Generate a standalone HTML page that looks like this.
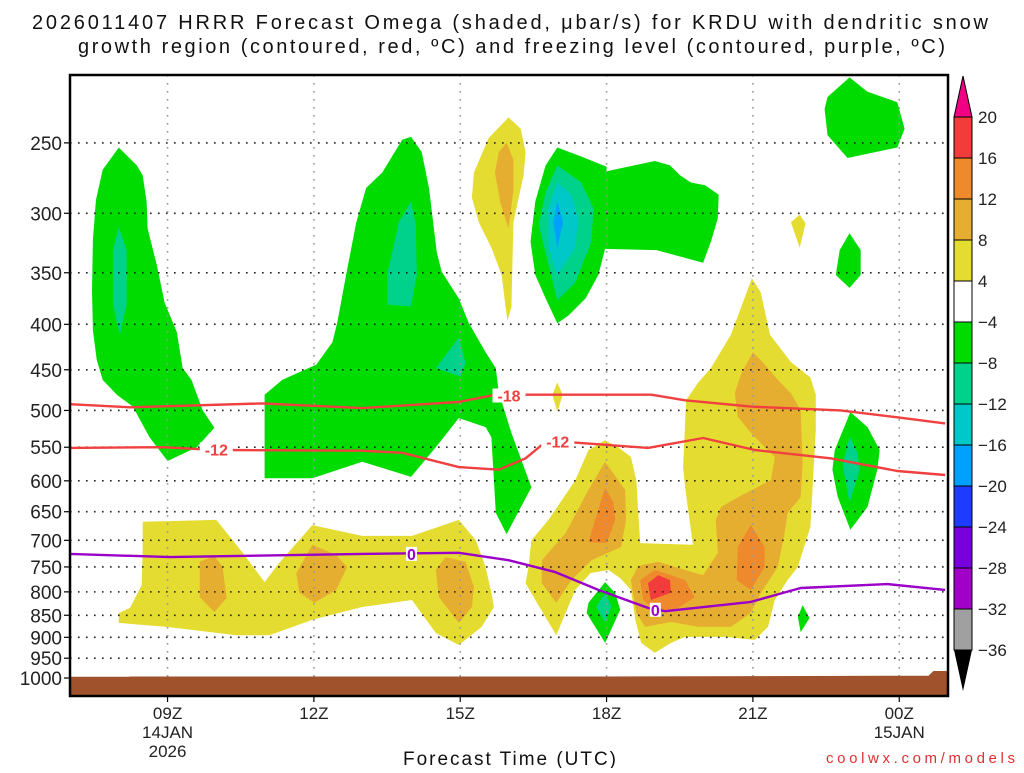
<!DOCTYPE html>
<html><head><meta charset="utf-8">
<style>
body{margin:0;background:#fff;}
svg text{font-family:"Liberation Sans",sans-serif;}
</style></head>
<body>
<svg id="chart" width="1024" height="768" viewBox="0 0 1024 768" xmlns="http://www.w3.org/2000/svg">
<g>
<text x="32" y="29" font-size="20" textLength="956" lengthAdjust="spacing" fill="#111">2026011407 HRRR Forecast Omega (shaded, μbar/s) for KRDU with dendritic snow</text>
<text x="78" y="53" font-size="20" textLength="867" lengthAdjust="spacing" fill="#111">growth region (contoured, red, ºC) and freezing level (contoured, purple, ºC)</text>
</g>
<g id="plot"></g>
<g id="axes"></g>
<g id="cbar"></g>
<text x="403" y="765" font-size="19" textLength="213" lengthAdjust="spacing" fill="#111">Forecast Time (UTC)</text>
<text x="826" y="763" font-size="15" textLength="189" lengthAdjust="spacing" fill="#e03030" font-family="Liberation Mono, monospace">coolwx.com/models</text>
</svg>
<script>
const pressureTicks=[250,300,350,400,450,500,550,600,650,700,750,800,850,900,950,1000];
const hourTicks=[9,12,15,18,21,24];
const hourTickLabels=[["09Z","14JAN","2026"],["12Z"],["15Z"],["18Z"],["21Z"],["00Z","15JAN"]];
const cbarLevels=[20,16,12,8,4,-4,-8,-12,-16,-20,-24,-28,-32,-36];
const cbarColors=["#f23c3c","#ef8a2c","#e5ae30","#e5dc32","#ffffff","#00dc00","#00d28c","#00c8c8","#00a0ff","#1e3cff","#7800dc","#a000c8","#a0a0a0"];
const surfHours=[7,8.2,8.25,10,15,18,21,24.6,24.7,25];
const surfPres=[997,997,996,996,996,996,995,994,982,982];
const isoM18Hours=[7,8.23,10.94,12.99,14.97,15.73,16.26,18.92,19.61,20.96,22.8,23.96,24.94];
const isoM18Pres=[492,496,491,497,489,480,480,480,487,495,500,509,517];
const isoM12Hours=[7,8.9,10,12.99,13.81,14.97,15.79,16.34,16.67,17.28,18.85,19.98,21.04,22.59,23.96,24.94];
const isoM12Pres=[551,550,554,555,558,579,583,566,547,543,551,537,554,566,585,591];
const iso0Hours=[7,9.04,12.99,14.97,15.99,16.95,17.83,18.85,19.2,20.96,21.98,23.76,24.94];
const iso0Pres=[725,731,725,723,737,760,796,834,841,821,792,784,796];
const yellowRegions=[
[[8.49,667],[10.0,664],[10.54,723],[10.99,780],[11.29,742],[11.97,673],[12.99,692],[14.01,692],[14.97,664],[15.32,700],[15.52,750],[15.64,802],[15.69,832],[15.44,876],[14.97,918],[14.5,890],[14.01,817],[12.99,832],[11.97,860],[11.09,895],[10.41,895],[8.98,876],[8.0,867],[8.0,845],[8.23,834],[8.47,786],[8.49,712]],
[[15.99,234],[16.24,241],[16.34,256],[16.3,272],[16.09,307],[16.05,383],[15.97,396],[15.93,383],[15.85,352],[15.64,328],[15.38,307],[15.24,288],[15.28,270],[15.58,247]],
[[20.98,355],[21.16,368],[21.35,411],[21.78,441],[22.18,459],[22.29,480],[22.29,526],[22.18,676],[21.92,750],[21.71,776],[21.45,817],[21.31,876],[21.04,906],[20.43,899],[19.61,899],[19.32,913],[18.99,937],[18.71,913],[18.59,860],[18.5,796],[18.28,772],[18.04,756],[17.67,762],[17.36,796],[17.16,845],[16.97,895],[16.54,817],[16.34,782],[16.4,750],[16.46,700],[16.81,664],[17.36,599],[17.63,554],[17.97,540],[18.24,550],[18.5,564],[18.61,599],[18.69,705],[19.77,708],[19.61,610],[19.57,579],[19.63,487],[19.88,465],[20.14,448],[20.55,411]],
[[16.99,465],[16.89,480],[16.99,502],[17.1,480]],
[[21.96,301],[21.78,307],[21.96,328],[22.08,308]]
];
const orangeRegions=[
[[9.96,729],[9.66,740],[9.66,811],[9.96,843],[10.21,813],[10.13,750]],
[[11.97,708],[11.64,762],[11.7,802],[12.01,823],[12.46,796],[12.68,750],[12.46,727]],
[[14.7,731],[14.5,756],[14.56,811],[14.97,867],[15.24,832],[15.28,790],[15.11,740]],
[[15.95,250],[16.09,261],[16.09,283],[15.99,312],[15.83,293],[15.71,270],[15.79,256]],
[[21.0,430],[21.2,441],[21.51,462],[21.78,478],[21.98,500],[22.02,573],[21.98,626],[21.71,652],[21.65,687],[21.51,750],[21.16,803],[20.96,845],[20.55,876],[19.88,876],[19.32,865],[18.79,876],[18.61,845],[18.5,776],[18.65,748],[19.06,740],[19.61,756],[19.98,766],[20.28,723],[20.24,664],[20.35,642],[20.69,626],[21.37,599],[21.45,564],[21.24,550],[20.96,530],[20.69,508],[20.63,478],[20.75,456]],
[[17.97,571],[17.63,614],[17.16,687],[16.67,737],[16.67,782],[16.97,823],[17.28,776],[17.69,737],[18.3,712],[18.4,664],[18.38,614]]
];
const darkOrangeRegions=[
[[20.96,673],[20.69,712],[20.67,776],[20.96,796],[21.24,750],[21.24,712]],
[[18.99,756],[18.69,776],[18.75,817],[18.99,838],[19.41,838],[19.81,811],[19.61,776],[19.26,764]],
[[17.97,610],[17.63,703],[18.0,705],[18.18,664],[18.14,635]]
];
const redRegions=[
[[19.06,766],[18.85,782],[18.91,817],[19.32,802],[19.3,776]]
];
const greenRegions=[
[[8.0,253],[8.37,265],[8.49,272],[8.57,291],[8.59,312],[8.78,343],[8.94,378],[9.19,408],[9.31,448],[9.49,462],[9.72,500],[9.96,523],[9.6,550],[9.0,570],[8.63,536],[8.29,495],[7.96,480],[7.67,462],[7.55,439],[7.47,406],[7.45,366],[7.47,321],[7.53,290],[7.67,268]],
[[13.99,246],[14.21,256],[14.36,281],[14.52,332],[14.62,349],[14.97,374],[15.17,398],[15.52,430],[15.73,448],[15.79,477],[16.05,530],[16.46,610],[15.95,689],[15.73,652],[15.64,536],[15.52,522],[14.97,510],[14.5,550],[13.99,594],[12.99,571],[11.97,596],[10.99,596],[10.99,480],[11.35,462],[12.05,444],[12.38,419],[12.48,398],[12.66,352],[12.87,307],[13.07,281],[13.4,270],[13.81,248]],
[[16.99,253],[17.48,259],[18.0,266],[18.0,269],[18.99,262],[19.3,265],[19.51,272],[19.73,277],[20.02,279],[20.3,286],[20.28,304],[20.14,323],[19.98,341],[19.02,330],[17.97,329],[17.83,352],[17.57,374],[17.22,391],[16.99,399],[16.75,374],[16.54,352],[16.44,323],[16.54,291],[16.75,265]],
[[22.98,211],[23.35,219],[23.96,225],[24.11,241],[23.96,253],[22.94,260],[22.53,245],[22.47,229],[22.53,222]],
[[22.98,316],[23.21,330],[23.21,352],[22.98,364],[22.7,352],[22.78,330]],
[[17.97,780],[18.18,803],[18.28,838],[17.97,913],[17.59,845],[17.63,823]],
[[22.02,828],[22.16,856],[21.98,888],[21.92,854]],
[[23.0,502],[23.35,522],[23.6,554],[23.55,583],[23.35,642],[23.0,681],[22.74,626],[22.63,583],[22.68,554]]
];
const tealRegions=[
[[8.0,311],[8.16,330],[8.16,380],[8.02,411],[7.88,380],[7.88,330]],
[[13.99,291],[14.09,309],[14.11,352],[13.99,382],[13.5,380],[13.5,352],[13.74,307]],
[[14.97,414],[15.11,442],[15.01,458],[14.5,448]],
[[16.99,265],[17.48,277],[17.73,296],[17.69,323],[17.36,359],[16.99,376],[16.81,343],[16.61,309],[16.75,284]],
[[17.97,803],[18.1,831],[17.97,866],[17.79,831]],
[[22.98,535],[23.14,557],[23.19,583],[22.98,635],[22.84,575]]
];
const cyanRegions=[[[16.99,277],[17.28,286],[17.42,304],[17.36,328],[16.99,352],[16.81,328],[16.81,296]]];
const blueRegions=[[[16.99,291],[17.11,307],[16.99,328],[16.91,307]]];

const X0=70,X1=948,Y0=75,Y1=696,H0=7,H1=25;
const xs=h=>X0+(h-H0)*(X1-X0)/(H1-H0);
const ys=p=>678-386*Math.log(1000/p);
const NS="http://www.w3.org/2000/svg";
function mk(tag,attrs,parent){const e=document.createElementNS(NS,tag);for(const k in attrs)e.setAttribute(k,attrs[k]);parent.appendChild(e);return e;}
const plot=document.getElementById('plot');
const clip=mk('clipPath',{id:'pc'},plot);mk('rect',{x:X0,y:Y0,width:X1-X0,height:Y1-Y0},clip);
const g=mk('g',{'clip-path':'url(#pc)'},plot);
function drawRegions(list,color,name){
  list.forEach((r,i)=>{
    const d='M'+r.map(pt=>xs(pt[0]).toFixed(1)+','+ys(pt[1]).toFixed(1)).join('L')+'Z';
    const e=mk('path',{d:d,fill:color},g);
    
    
  });
}
drawRegions(yellowRegions,'#e5dc32','omega-4to8');
drawRegions(orangeRegions,'#e5ae30','omega-8to12');
drawRegions(darkOrangeRegions,'#ef8a2c','omega-12to16');
drawRegions(redRegions,'#f23c3c','omega-16to20');
drawRegions(greenRegions,'#00dc00','omega-neg4to8');
drawRegions(tealRegions,'#00d28c','omega-neg8to12');
drawRegions(cyanRegions,'#00c8c8','omega-neg12to16');
drawRegions(blueRegions,'#00a0ff','omega-neg16to20');
pressureTicks.forEach(p=>{
  const l=mk('line',{x1:X0,x2:X1,y1:ys(p),y2:ys(p),stroke:'#222','stroke-width':1.6,'stroke-dasharray':'1.6 6.4'},g);
  
  
});
hourTicks.forEach(h=>{
  const l=mk('line',{x1:xs(h),x2:xs(h),y1:Y0,y2:Y1,stroke:'#999','stroke-width':1.6,'stroke-dasharray':'1.6 6.4'},g);
  
  
});
{
  let d='M'+xs(H0)+','+Y1;
  surfHours.forEach((h,i)=>{d+='L'+xs(h).toFixed(1)+','+ys(surfPres[i]).toFixed(1);});
  d+='L'+xs(H1)+','+Y1+'Z';
  const e=mk('path',{d:d,fill:'#a0522d'},g);
  
  
}
function line(hs,ps,color,name){
  const d='M'+hs.map((h,i)=>xs(h).toFixed(1)+','+ys(ps[i]).toFixed(1)).join('L');
  const e=mk('path',{d:d,fill:'none',stroke:color,'stroke-width':2.4,'stroke-linejoin':'round'},g);
  
  
}
line(isoM18Hours,isoM18Pres,'#f04040','isotherm-minus18');
line(isoM12Hours,isoM12Pres,'#f04040','isotherm-minus12');
line(iso0Hours,iso0Pres,'#9a00c8','isotherm-0');
function lab(txt,h,p,color,name){
  const x=xs(h),y=ys(p);
  mk('rect',{x:x-(txt.length*5.5),y:y-7,width:txt.length*11,height:14,fill:'#fff'},g);
  const t=mk('text',{x:x,y:y+6,'font-size':16,'font-weight':'bold','text-anchor':'middle',fill:color},g);
  t.textContent=txt;
  
  
}
lab('-18',16.0,481,'#f04040','label-minus18');
lab('-12',10.0,553,'#f04040','label-minus12');
lab('-12',17.0,542,'#f04040','label-minus12-b');
lab('0',14.0,725,'#9a00c8','label-0');
lab('0',19.0,838,'#9a00c8','label-0-b');
const ax=document.getElementById('axes');
const fr=mk('rect',{x:X0,y:Y0,width:X1-X0,height:Y1-Y0,fill:'none',stroke:'#000','stroke-width':2.5},ax);


pressureTicks.forEach(p=>{
  const y=ys(p);
  mk('line',{x1:X0-6,x2:X0,y1:y,y2:y,stroke:'#000','stroke-width':1.2},ax);
  const t=mk('text',{x:X0-8,y:y+7,'font-size':19,'text-anchor':'end',fill:'#222'},ax);
  t.textContent=p;
  
  
});
hourTicks.forEach((h,i)=>{
  const x=xs(h);
  mk('line',{x1:x,x2:x,y1:Y1,y2:Y1+6,stroke:'#000','stroke-width':1.2},ax);
  hourTickLabels[i].forEach((s,j)=>{
    const t=mk('text',{x:x,y:719+j*19,'font-size':17,'text-anchor':'middle',fill:'#222'},ax);
    t.textContent=s;
    
    
  });
});
const cb=document.getElementById('cbar');
const CX0=954,CX1=972,CT=117,CS=(650-117)/13;
cbarColors.forEach((c,i)=>{
  const r=mk('rect',{x:CX0,y:CT+i*CS,width:CX1-CX0,height:CS,fill:c,stroke:'#000','stroke-width':1},cb);
  
  
});
const tt=mk('polygon',{points:`${CX0},${CT} ${CX1},${CT} ${(CX0+CX1)/2},76`,fill:'#f00082',stroke:'#000','stroke-width':1},cb);


const bt=mk('polygon',{points:`${CX0},650 ${CX1},650 ${(CX0+CX1)/2},691`,fill:'#000'},cb);


cbarLevels.forEach((v,i)=>{
  const t=mk('text',{x:978,y:CT+i*CS+6,'font-size':17,fill:'#222'},cb);
  t.textContent=v<0?'−'+(-v):v;
  
  
});
</script>
</body></html>
